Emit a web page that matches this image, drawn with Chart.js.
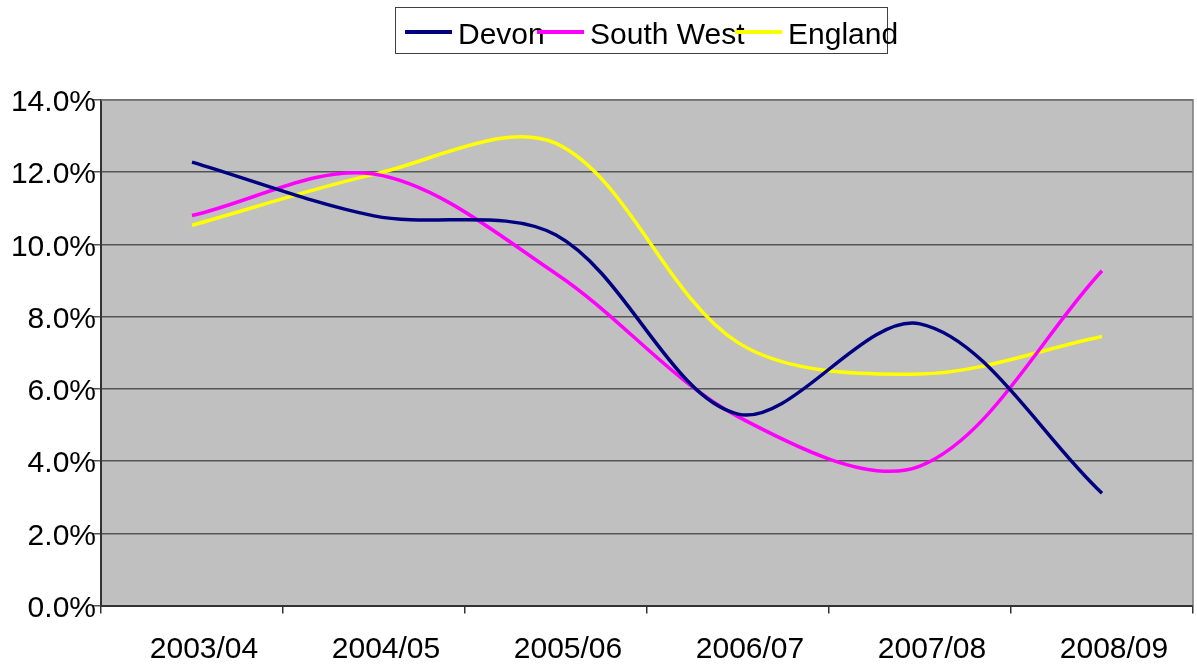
<!DOCTYPE html>
<html><head><meta charset="utf-8">
<script src="https://cdn.jsdelivr.net/npm/chart.js@4/dist/chart.umd.min.js"></script>
<style>html,body{margin:0;padding:0;background:#fff;}#wrap{width:1197px;height:664px;}</style>
</head><body><div id="wrap"><canvas id="c" width="1197" height="664"></canvas></div>
<script>
const categories = ['2003/04','2004/05','2005/06','2006/07','2007/08','2008/09'];
const devon = [12.28, 10.79, 10.26, 5.30, 7.80, 3.11];
const southWest = [10.80, 11.95, 9.19, 5.23, 3.86, 9.27];
const england = [10.53, 11.94, 12.80, 7.28, 6.41, 7.45];
const seriesNames = ['Devon', 'South West', 'England'];
const seriesColors = ['#000080', '#FF00FF', '#FFFF00'];

const FONT = '"Liberation Sans", Arial, sans-serif';

const plotBg = {
  id: 'plotBg',
  beforeDraw(chart) {
    const a = chart.chartArea, ctx = chart.ctx;
    ctx.save();
    ctx.fillStyle = '#C0C0C0';
    ctx.fillRect(a.left, a.top, a.right - a.left, a.bottom - a.top);
    ctx.restore();
  },
  beforeDatasetsDraw(chart) {
    const a = chart.chartArea, ctx = chart.ctx;
    ctx.save();
    ctx.strokeStyle = '#7a7a7a';
    ctx.lineWidth = 1.5;
    ctx.beginPath();
    ctx.moveTo(a.left, a.top);
    ctx.lineTo(a.right, a.top);
    ctx.lineTo(a.right, a.bottom);
    ctx.stroke();
    ctx.restore();
  }
};

const boxLegend = {
  id: 'boxLegend',
  afterDraw(chart) {
    const ctx = chart.ctx;
    const xs = [405, 537, 735];
    ctx.save();
    ctx.strokeStyle = '#404040';
    ctx.lineWidth = 1;
    ctx.strokeRect(395.5, 7.5, 492, 46);
    ctx.font = '30px ' + FONT;
    ctx.textBaseline = 'alphabetic';
    ctx.textAlign = 'left';
    chart.data.datasets.forEach((ds, i) => {
      ctx.strokeStyle = ds.borderColor;
      ctx.lineWidth = 4;
      ctx.beginPath();
      ctx.moveTo(xs[i], 32);
      ctx.lineTo(xs[i] + 47, 32);
      ctx.stroke();
      ctx.fillStyle = '#000';
      ctx.fillText(ds.label, xs[i] + 53, 43.5);
    });
    ctx.restore();
  }
};

const values = [devon, southWest, england];

new Chart(document.getElementById('c'), {
  type: 'line',
  data: {
    labels: categories,
    datasets: values.map((v, i) => ({
      label: seriesNames[i],
      data: v,
      borderColor: seriesColors[i],
      backgroundColor: seriesColors[i],
      borderWidth: 3.5,
      pointRadius: 0,
      tension: 0.33,
      fill: false
    }))
  },
  options: {
    responsive: false,
    animation: false,
    devicePixelRatio: 1,
    layout: { padding: { top: 100, right: 4, left: 0, bottom: 0 } },
    plugins: { legend: { display: false }, tooltip: { enabled: false } },
    scales: {
      x: {
        type: 'category',
        offset: true,
        grid: { offset: true, drawOnChartArea: false, drawTicks: true, tickLength: 8, color: '#333', lineWidth: 1.5 },
        border: { display: true, color: '#333', width: 2 },
        ticks: { color: '#000', font: { family: FONT, size: 30 }, padding: 18, labelOffset: 12, maxRotation: 0, autoSkip: false },
        afterFit(scale) { scale.height = 58.5; }
      },
      y: {
        min: 0, max: 14,
        grid: { color: '#555', lineWidth: 1.5, tickLength: 8, drawTicks: true },
        border: { display: true, color: '#333', width: 2 },
        ticks: { stepSize: 2, color: '#000', font: { family: FONT, size: 30 }, padding: -3, labelOffset: 3,
          callback: v => Number(v).toFixed(1) + '%' },
        afterFit(scale) { scale.width = 101; }
      }
    }
  },
  plugins: [plotBg, boxLegend]
});
</script>
</body></html>
